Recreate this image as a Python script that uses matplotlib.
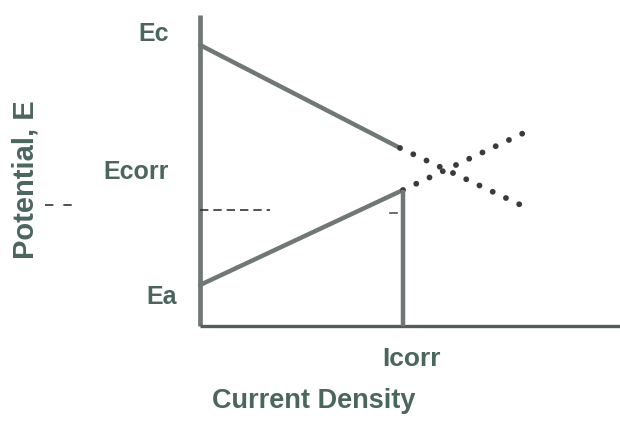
import matplotlib
matplotlib.use("Agg")
import matplotlib.pyplot as plt

# ---- data (abstract units: current density vs potential) ----
i_corr = 2.03
E_c = 2.81
E_a = 0.41
E_corr = 1.54
cath_i_solid = [0.0, 2.0]
cath_E_solid = [2.81, 1.78]
cath_i_dot = [2.0, 3.25]
cath_E_dot = [1.78, 1.19]
an_i_solid = [0.0, 2.03]
an_E_solid = [0.41, 1.36]
an_i_dot = [2.03, 3.3]
an_E_dot = [1.36, 1.96]
guide_i = [0.0, 0.7]
guide_E = [1.16, 1.16]
guide2_i = [1.9, 1.97]
guide2_E = [1.13, 1.13]

y_labels = ["Ec", "Ecorr", "Ea"]
x_label_tick = "Icorr"
xlabel = "Current Density"
ylabel = "Potential, E"

W, H = 620, 429
fig = plt.figure(figsize=(W / 100, H / 100), dpi=100)
fig.patch.set_facecolor("white")
ax = fig.add_axes([0, 0, 1, 1])
ax.set_xlim(-2.0, 4.2)
ax.set_ylim(-1.03, 3.26)
ax.axis("off")

line_c = "#6f7876"
text_c = "#4b655f"
fam = ["Liberation Sans", "DejaVu Sans"]

# axes lines
ax.plot([0, 0], [0, 3.11], color=line_c, lw=3.4, solid_capstyle="butt")
ax.plot([0, 4.2], [0, 0], color="#555c5a", lw=2.4, solid_capstyle="butt")

# cathodic and anodic lines
ax.plot(cath_i_solid, cath_E_solid, color=line_c, lw=3.2, solid_capstyle="round")
ax.plot(an_i_solid, an_E_solid, color=line_c, lw=3.2, solid_capstyle="round")
ax.plot(cath_i_dot, cath_E_dot, color="#3a3a3a", lw=4.2, linestyle=(0, (0.01, 2.5)),
        dash_capstyle="round")
ax.plot(an_i_dot, an_E_dot, color="#3a3a3a", lw=4.2, linestyle=(0, (0.01, 2.5)),
        dash_capstyle="round")

# icorr vertical
ax.plot([i_corr, i_corr], [0, an_E_solid[-1]], color=line_c, lw=3.2, solid_capstyle="butt")

# dashed guides
ax.plot(guide_i, guide_E, color="#333", lw=1.2, linestyle=(0, (5, 3)))
ax.plot(guide2_i, guide2_E, color="#555", lw=1.2)
ax.plot([-1.55, -1.2], [1.21, 1.21], color="#333", lw=1.2, linestyle=(0, (5, 6)), clip_on=False)

# labels
kw = dict(color=text_c, family=fam, fontweight="bold")
ax.text(-0.46, E_c + 0.11, y_labels[0], ha="center", va="center", fontsize=18, **kw)
ax.text(-0.64, E_corr, y_labels[1], ha="center", va="center", fontsize=18, **kw)
ax.text(-0.38, E_a - 0.12, y_labels[2], ha="center", va="center", fontsize=18, **kw)
ax.text(i_corr + 0.08, -0.33, x_label_tick, ha="center", va="center", fontsize=19, **kw)
ax.text(1.14, -0.75, xlabel, ha="center", va="center", fontsize=19.5, **kw)
ax.text(-1.74, 1.46, ylabel, ha="center", va="center", rotation=90, fontsize=21, **kw)

fig.savefig("out.png", dpi=100, facecolor="white")
